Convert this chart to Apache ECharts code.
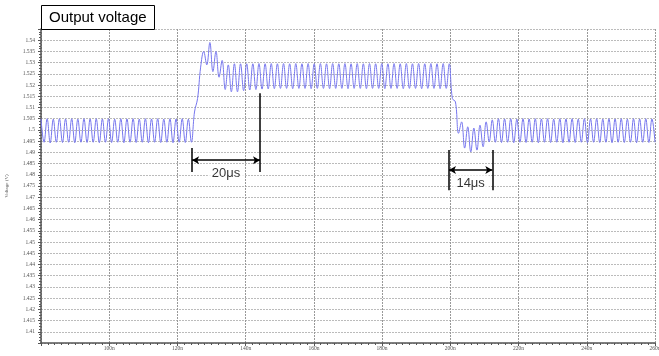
<!DOCTYPE html>
<html><head><meta charset="utf-8">
<script src="https://cdn.jsdelivr.net/npm/echarts@6/dist/echarts.min.js"></script>
<style>html,body{margin:0;padding:0;background:#fff}#c{width:659px;height:356px}</style>
</head><body><div id="c"></div>
<script>
// time in ns
var timeNs = [
80,80.9,81.8,82.7,83.6,84.5,85.4,86.3,87.2,88.1,
89,89.9,90.8,91.7,92.6,93.5,94.4,95.3,96.2,97.1,
98,98.9,99.8,100.7,101.6,102.5,103.4,104.3,105.2,106.1,
107,107.9,108.8,109.7,110.6,111.5,112.4,113.3,114.2,115.1,
116,116.9,117.8,118.7,119.6,120.5,121.4,122.3,123.2,124.1,
125,125.9,126.8,127.7,128.6,129.5,130.4,131.3,132.2,133.1,
134,134.9,135.8,136.7,137.6,138.5,139.4,140.3,141.2,142.1,
143,143.9,144.8,145.7,146.6,147.5,148.4,149.3,150.2,151.1,
152,152.9,153.8,154.7,155.6,156.5,157.4,158.3,159.2,160.1,
161,161.9,162.8,163.7,164.6,165.5,166.4,167.3,168.2,169.1,
170,170.9,171.8,172.7,173.6,174.5,175.4,176.3,177.2,178.1,
179,179.9,180.8,181.7,182.6,183.5,184.4,185.3,186.2,187.1,
188,188.9,189.8,190.7,191.6,192.5,193.4,194.3,195.2,196.1,
197,197.9,198.8,199.7,200.6,201.5,202.4,203.3,204.2,205.1,
206,206.9,207.8,208.7,209.6,210.5,211.4,212.3,213.2,214.1,
215,215.9,216.8,217.7,218.6,219.5,220.4,221.3,222.2,223.1,
224,224.9,225.8,226.7,227.6,228.5,229.4,230.3,231.2,232.1,
233,233.9,234.8,235.7,236.6,237.5,238.4,239.3,240.2,241.1,
242,242.9,243.8,244.7,245.6,246.5,247.4,248.3,249.2,250.1,
251,251.9,252.8,253.7,254.6,255.5,256.4,257.3,258.2,259.1,
260
];
// output voltage in V
var voltage = [
1.5050,1.4945,1.5050,1.4942,1.5048,1.4945,1.5050,1.4944,1.5049,1.4945,
1.5050,1.4943,1.5048,1.4945,1.5050,1.4944,1.5049,1.4945,1.5050,1.4943,
1.5049,1.4945,1.5050,1.4944,1.5048,1.4945,1.5050,1.4943,1.5049,1.4945,
1.5050,1.4944,1.5048,1.4945,1.5050,1.4943,1.5049,1.4945,1.5050,1.4944,
1.5048,1.4945,1.5050,1.4943,1.5049,1.4945,1.5050,1.4944,1.5048,1.4945,
1.5080,1.5140,1.5280,1.5350,1.5290,1.5390,1.5260,1.5350,1.5235,1.5310,
1.5180,1.5290,1.5170,1.5295,1.5170,1.5295,1.5175,1.5295,1.5178,1.5295,
1.5180,1.5296,1.5182,1.5295,1.5183,1.5296,1.5184,1.5295,1.5185,1.5296,
1.5185,1.5295,1.5184,1.5296,1.5185,1.5295,1.5185,1.5296,1.5184,1.5295,
1.5185,1.5296,1.5185,1.5295,1.5184,1.5296,1.5185,1.5295,1.5185,1.5296,
1.5184,1.5295,1.5185,1.5296,1.5185,1.5295,1.5184,1.5296,1.5185,1.5295,
1.5185,1.5296,1.5184,1.5295,1.5185,1.5296,1.5185,1.5295,1.5184,1.5296,
1.5185,1.5295,1.5185,1.5296,1.5184,1.5295,1.5185,1.5296,1.5185,1.5295,
1.5184,1.5296,1.5185,1.5295,1.5140,1.5125,1.4985,1.5036,1.4919,1.5014,
1.4902,1.5008,1.4910,1.5021,1.4925,1.5036,1.4947,1.5045,1.4945,1.5050,
1.4944,1.5049,1.4945,1.5050,1.4943,1.5048,1.4945,1.5050,1.4944,1.5049,
1.4945,1.5050,1.4943,1.5049,1.4945,1.5050,1.4944,1.5048,1.4945,1.5050,
1.4943,1.5049,1.4945,1.5050,1.4944,1.5048,1.4945,1.5050,1.4943,1.5049,
1.4945,1.5050,1.4944,1.5048,1.4945,1.5050,1.4943,1.5049,1.4945,1.5050,
1.4944,1.5048,1.4945,1.5050,1.4943,1.5049,1.4945,1.5050,1.4944,1.5049,
1.4945
];
var xTicks = [80, 100, 120, 140, 160, 180, 200, 220, 240, 260];
var yTicks = [1.41, 1.54];
// annotation markers: [t1, t2, yTopLeft, yTopRight, yBottom, yArrow, label, yLabel]
var markerA = [124.3, 144.2, 1.4919, 1.5164, 1.4812, 1.4865, '20\u03bcs', 1.4805];
var markerB = [199.6, 212.3, 1.4910, 1.4910, 1.4731, 1.4821, '14\u03bcs', 1.4760];

var chart = echarts.init(document.getElementById('c'), null, {renderer: 'canvas'});
var series = timeNs.map(function (t, i) { return [t, voltage[i]]; });

function markerLines(m) {
  var st = {color: '#000', width: 1.5, type: 'solid'};
  return [
    [{coord: [m[0], m[2]], symbol: 'none', lineStyle: st}, {coord: [m[0], m[4]], symbol: 'none'}],
    [{coord: [m[1], m[3]], symbol: 'none', lineStyle: st}, {coord: [m[1], m[4]], symbol: 'none'}],
    [{coord: [m[0], m[5]], symbol: 'arrow', symbolSize: [6, 7], lineStyle: st}, {coord: [m[1], m[5]], symbol: 'arrow', symbolSize: [6, 7]}]
  ];
}

var tickColor = '#555';
chart.setOption({
  animation: false,
  title: {
    text: 'Output voltage', left: 41, top: 5,
    borderColor: '#000', borderWidth: 1, padding: [5, 8, 5, 8],
    textStyle: {fontFamily: 'Liberation Sans, Arial, sans-serif', fontSize: 15, fontWeight: 'normal', color: '#000'}
  },
  grid: {left: 41, right: 4, top: 29, bottom: 13, containLabel: false, outerBoundsMode: 'none'},
  xAxis: {
    type: 'value', min: 80, max: 260, interval: 20,
    name: 'Time (ns) (TIME)', nameLocation: 'middle', nameGap: 8,
    nameTextStyle: {fontSize: 5, color: '#555', fontFamily: 'Liberation Serif'},
    axisLine: {onZero: false, lineStyle: {color: tickColor, width: 1.5}},
    axisTick: {show: true, length: 3, lineStyle: {color: tickColor}},
    minorTick: {show: true, splitNumber: 10, length: 2, lineStyle: {color: tickColor}},
    axisLabel: {fontSize: 5.5, color: '#555', margin: 3, fontFamily: 'Liberation Serif',
      formatter: function (v) { return v === xTicks[0] ? '' : v + 'n'; }},
    splitLine: {show: true, lineStyle: {color: '#999', type: [2, 1], width: 1}}
  },
  yAxis: {
    type: 'value', min: 1.405, max: 1.545, interval: 0.005,
    name: 'Voltage (V)', nameLocation: 'middle', nameGap: 32, nameRotate: 90,
    nameTextStyle: {fontSize: 5, color: '#555', fontFamily: 'Liberation Serif'},
    axisLine: {show: true, lineStyle: {color: tickColor, width: 1.5}},
    axisTick: {show: true, length: 3, lineStyle: {color: tickColor}},
    minorTick: {show: true, splitNumber: 4, length: 2, lineStyle: {color: tickColor}},
    axisLabel: {fontSize: 5.5, color: '#555', margin: 6, fontFamily: 'Liberation Serif',
      formatter: function (v) {
        var r = Math.round(v * 1000) / 1000;
        if (r < yTicks[0] - 1e-6 || r > yTicks[1] + 1e-6) return '';
        return String(r);
      }},
    splitLine: {show: true, lineStyle: {color: '#bbb', type: [2, 1], width: 1}}
  },
  series: [
    {
      type: 'line', data: series, showSymbol: false, smooth: 0.4,
      lineStyle: {color: '#7676ee', width: 1}, z: 3
    },
    {
      type: 'line', data: [], showSymbol: false, z: 5,
      markLine: {
        silent: true, animation: false, label: {show: false},
        data: markerLines(markerA).concat(markerLines(markerB))
      }
    },
    {
      type: 'scatter', symbolSize: 0, z: 6,
      data: [[(markerA[0] + markerA[1]) / 2, markerA[7], markerA[6]], [(markerB[0] + markerB[1]) / 2, markerB[7], markerB[6]]],
      label: {
        show: true, position: 'inside', color: '#000', fontSize: 13,
        fontFamily: 'Liberation Sans, Arial, sans-serif', backgroundColor: '#fff', padding: [2, 4],
        formatter: function (p) { return p.data[2]; }
      }
    }
  ]
});
</script></body></html>
